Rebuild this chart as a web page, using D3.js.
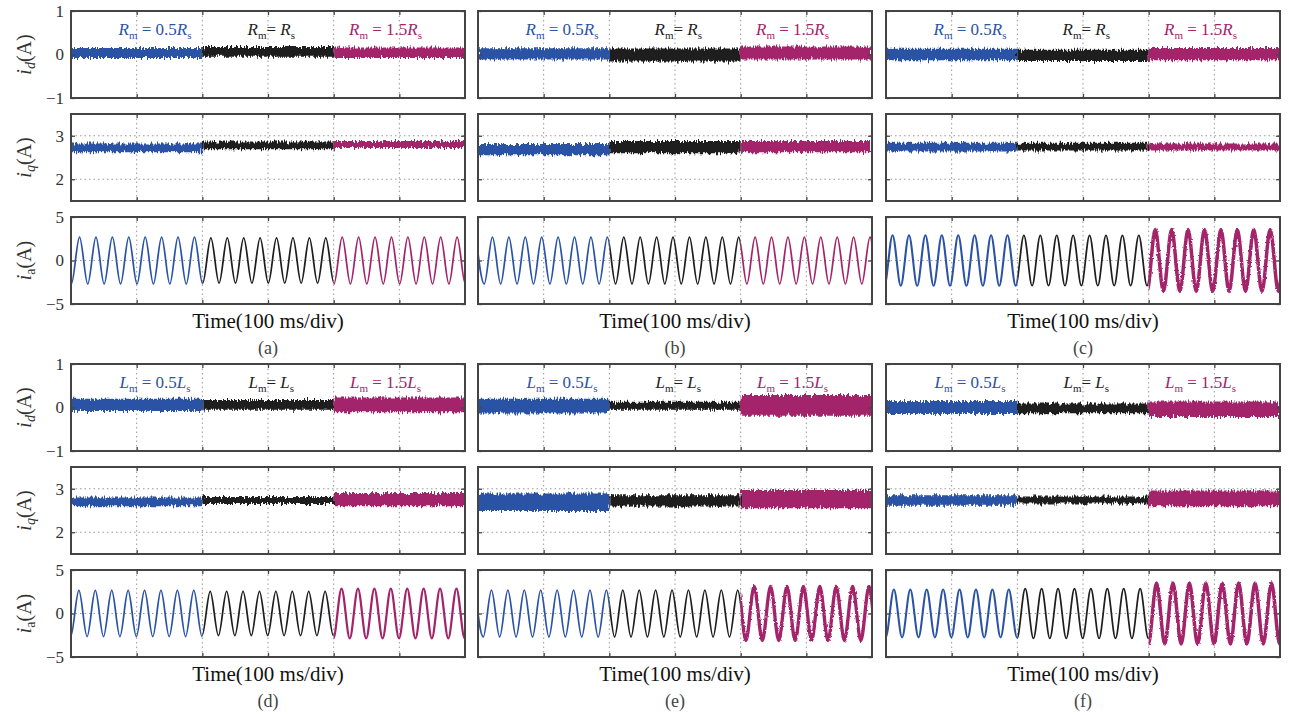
<!DOCTYPE html>
<html>
<head>
<meta charset="utf-8">
<script src="https://cdn.jsdelivr.net/npm/d3@7"></script>
<style>
body { margin: 0; background: #fff; }
svg { display: block; font-family: "Liberation Serif", "Times New Roman", serif; }
text { white-space: pre; }
</style>
</head>
<body>
<svg id="chart" width="1289" height="715"></svg>
<script>
// ---- data ----
const panelNames = ['(a)', '(b)', '(c)', '(d)', '(e)', '(f)'];
const paramSymbols = ['R', 'L'];              // row 1: resistance, row 2: inductance
const paramRatios = ['0.5', '', '1.5'];       // Xm = 0.5Xs, Xm = Xs, Xm = 1.5Xs
const segmentBounds = [[0, 200], [200, 400], [400, 600]];   // ms
const timeTicks = [0, 100, 200, 300, 400, 500, 600];
const idTicks = [-1, 0, 1];
const iqTicks = [2, 3];
const iaTicks = [-5, 0, 5];
const labelTimes = [128, 305, 479];

// i_d noise band: centre and half width per segment (A), panels a..f
const idCentre = [
    [0.035, 0.06, 0.04], [0.015, -0.01, 0.035], [0.0, -0.02, 0.01],
    [0.06, 0.06, 0.06], [0.03, 0.04, 0.05], [0.0, -0.02, -0.04]
];
const idHalf = [
    [0.115, 0.11, 0.12], [0.13, 0.15, 0.15], [0.135, 0.13, 0.14],
    [0.14, 0.11, 0.17], [0.17, 0.09, 0.24], [0.15, 0.11, 0.18]
];
// i_q noise band
const iqCentre = [
    [2.72, 2.78, 2.80], [2.68, 2.74, 2.75], [2.74, 2.75, 2.74],
    [2.70, 2.73, 2.75], [2.69, 2.72, 2.76], [2.73, 2.74, 2.78]
];
const iqHalf = [
    [0.10, 0.09, 0.08], [0.13, 0.14, 0.13], [0.10, 0.09, 0.08],
    [0.10, 0.08, 0.15], [0.20, 0.13, 0.21], [0.12, 0.08, 0.18]
];
// i_a: peak amplitude and ripple per segment (A), time of first peak (ms)
const iaAmp = [
    [2.70, 2.60, 2.70], [2.70, 2.70, 2.70], [2.90, 2.90, 3.55],
    [2.65, 2.55, 2.85], [2.70, 2.70, 3.10], [2.75, 2.85, 3.50]
];
const iaRipple = [
    [0.02, 0.02, 0.02], [0.02, 0.02, 0.02], [0.04, 0.02, 0.12],
    [0.02, 0.02, 0.05], [0.02, 0.02, 0.11], [0.04, 0.02, 0.12]
];
const iaFirstPeak = [13, 22, 10, 12, 20.5, 12];
const iaPeriod = 25;

// ---- layout ----
const colors = ['#2a53a6', '#1e1e1e', '#a4246b'];
const colLeft = [71, 478, 886];
const plotW = 394;
const rowTop = [11, 364];
const subTop = [0, 103, 206];
const subH = 87;
const frame = '#444';

const svg = d3.select('#chart');
const defs = svg.append('defs');

function noiseFilter(id, freq, scale) {
    const f = defs.append('filter')
        .attr('id', id)
        .attr('filterUnits', 'userSpaceOnUse')
        .attr('x', 0).attr('y', 0).attr('width', 1289).attr('height', 715)
        .attr('color-interpolation-filters', 'sRGB');
    f.append('feTurbulence')
        .attr('type', 'fractalNoise')
        .attr('baseFrequency', freq)
        .attr('numOctaves', 2)
        .attr('seed', 5)
        .attr('result', 'n');
    f.append('feDisplacementMap')
        .attr('in', 'SourceGraphic')
        .attr('in2', 'n')
        .attr('scale', scale)
        .attr('xChannelSelector', 'R')
        .attr('yChannelSelector', 'G');
}
noiseFilter('jag', '0.7 0.1', 8);
noiseFilter('jag-soft', '0.8 0.5', 2.5);

function subscripted(sel, base, sub, italicBase, italicSub, size) {
    sel.append('tspan').attr('font-style', italicBase ? 'italic' : 'normal').text(base);
    sel.append('tspan')
        .attr('font-style', italicSub ? 'italic' : 'normal')
        .attr('font-size', size)
        .attr('dy', 4)
        .text(sub);
}

function styleAxis(g) {
    g.select('.domain').remove();
    g.selectAll('.tick line').attr('stroke', frame).attr('stroke-width', 1.3);
    g.selectAll('.tick text')
        .attr('fill', '#333')
        .attr('font-size', 17)
        .attr('font-family', '"Liberation Serif", "Times New Roman", serif');
    g.attr('font-family', null).attr('font-size', null);
}

panelNames.forEach((name, p) => {
    const row = Math.floor(p / 3);
    const col = p % 3;
    const left = colLeft[col];
    const top = rowTop[row];
    const x = d3.scaleLinear().domain([0, 600]).range([left, left + plotW]);

    const subs = [
        { domain: [-1, 1], ticks: idTicks, grid: [0], sub: 'd', italicSub: true },
        { domain: [1.5, 3.5], ticks: iqTicks, grid: iqTicks, sub: 'q', italicSub: true },
        { domain: [-5, 5], ticks: iaTicks, grid: [0], sub: 'a', italicSub: false }
    ];

    subs.forEach((s, k) => {
        const y0 = top + subTop[k];
        const y = d3.scaleLinear().domain(s.domain).range([y0 + subH, y0]);
        const g = svg.append('g').attr('class', `panel-${p}-${k}`);

        const clipId = `clip-${p}-${k}`;
        defs.append('clipPath').attr('id', clipId)
            .append('rect')
            .attr('x', left).attr('y', y0)
            .attr('width', plotW).attr('height', subH);

        // dotted grid
        g.append('g').selectAll('line')
            .data(timeTicks.slice(1, -1))
            .join('line')
            .attr('x1', d => x(d)).attr('x2', d => x(d))
            .attr('y1', y0).attr('y2', y0 + subH)
            .attr('stroke', '#999').attr('stroke-width', 1)
            .attr('stroke-dasharray', '1.5,3');
        g.append('g').selectAll('line')
            .data(s.grid)
            .join('line')
            .attr('x1', left).attr('x2', left + plotW)
            .attr('y1', d => y(d)).attr('y2', d => y(d))
            .attr('stroke', '#999').attr('stroke-width', 1)
            .attr('stroke-dasharray', '1.5,3');

        const traces = g.append('g').attr('clip-path', `url(#${clipId})`);

        if (k < 2) {
            const centre = k === 0 ? idCentre[p] : iqCentre[p];
            const half = k === 0 ? idHalf[p] : iqHalf[p];
            segmentBounds.forEach((b, i) => {
                const area = d3.area()
                    .x(d => x(d))
                    .y0(y(centre[i] - half[i]))
                    .y1(y(centre[i] + half[i]));
                traces.append('path')
                    .attr('d', area(b))
                    .attr('fill', colors[i])
                    .attr('filter', 'url(#jag)');
            });
        } else {
            segmentBounds.forEach((b, i) => {
                const segClip = `clip-${p}-${k}-${i}`;
                defs.append('clipPath').attr('id', segClip)
                    .append('rect')
                    .attr('x', x(b[0])).attr('y', y0 - 5)
                    .attr('width', x(b[1]) - x(b[0])).attr('height', subH + 10);
                const times = d3.range(iaFirstPeak[p] - iaPeriod, 600 + iaPeriod, iaPeriod / 2);
                const pts = times.map((t, j) => [t, (j % 2 === 0 ? 1 : -1) * iaAmp[p][i]]);
                const line = d3.line()
                    .x(d => x(d[0]))
                    .y(d => y(d[1]))
                    .curve(d3.curveMonotoneX);
                const ripplePx = y(0) - y(iaRipple[p][i]);
                traces.append('g').attr('clip-path', `url(#${segClip})`)
                    .append('path')
                    .attr('d', line(pts))
                    .attr('fill', 'none')
                    .attr('stroke', colors[i])
                    .attr('stroke-width', 1.4 + 2 * ripplePx)
                    .attr('filter', iaRipple[p][i] > 0.1 ? 'url(#jag-soft)' : null);
            });
        }

        // frame and inward ticks
        g.append('rect')
            .attr('x', left).attr('y', y0)
            .attr('width', plotW).attr('height', subH)
            .attr('fill', 'none').attr('stroke', frame).attr('stroke-width', 2);

        const inner = timeTicks.slice(1, -1);
        g.append('g').attr('transform', `translate(0,${y0})`)
            .call(d3.axisTop(x).tickValues(inner).tickSize(-4).tickFormat(''))
            .call(styleAxis);
        g.append('g').attr('transform', `translate(0,${y0 + subH})`)
            .call(d3.axisBottom(x).tickValues(inner).tickSize(-4).tickFormat(''))
            .call(styleAxis);
        g.append('g').attr('transform', `translate(${left + plotW},0)`)
            .call(d3.axisRight(y).tickValues(s.ticks).tickSize(-4).tickFormat(''))
            .call(styleAxis);
        g.append('g').attr('transform', `translate(${left},0)`)
            .call(d3.axisLeft(y).tickValues(s.ticks).tickSize(-4).tickPadding(7)
                .tickFormat(col === 0 ? (d => d < 0 ? '\u2212' + Math.abs(d) : String(d)) : ''))
            .call(styleAxis);

        // y label on the first column
        if (col === 0) {
            const t = svg.append('text')
                .attr('transform', `translate(31,${y0 + subH / 2}) rotate(-90)`)
                .attr('text-anchor', 'middle')
                .attr('font-size', 20)
                .attr('fill', '#333');
            subscripted(t, 'i', s.sub, true, s.italicSub, 14);
            t.append('tspan').attr('dy', -4).text('(A)');
        }

        // parameter labels in the i_d plot
        if (k === 0) {
            const sym = paramSymbols[row];
            segmentBounds.forEach((b, i) => {
                const t = g.append('text')
                    .attr('x', x(labelTimes[i]))
                    .attr('y', y0 + 24)
                    .attr('text-anchor', 'middle')
                    .attr('font-size', 17)
                    .attr('fill', colors[i]);
                subscripted(t, sym, 'm', true, false, 11);
                t.append('tspan').attr('dy', -4).text(paramRatios[i] ? ' = ' + paramRatios[i] : '= ');
                subscripted(t, sym, 's', true, false, 11);
            });
        }
    });

    const cx = left + plotW / 2;
    svg.append('text')
        .attr('x', cx).attr('y', top + 317)
        .attr('text-anchor', 'middle')
        .attr('font-size', 21)
        .attr('fill', '#111')
        .text('Time(100 ms/div)');
    svg.append('text')
        .attr('x', cx).attr('y', top + 343)
        .attr('text-anchor', 'middle')
        .attr('font-size', 18)
        .attr('fill', '#444')
        .text(name);
});
</script>
</body>
</html>
